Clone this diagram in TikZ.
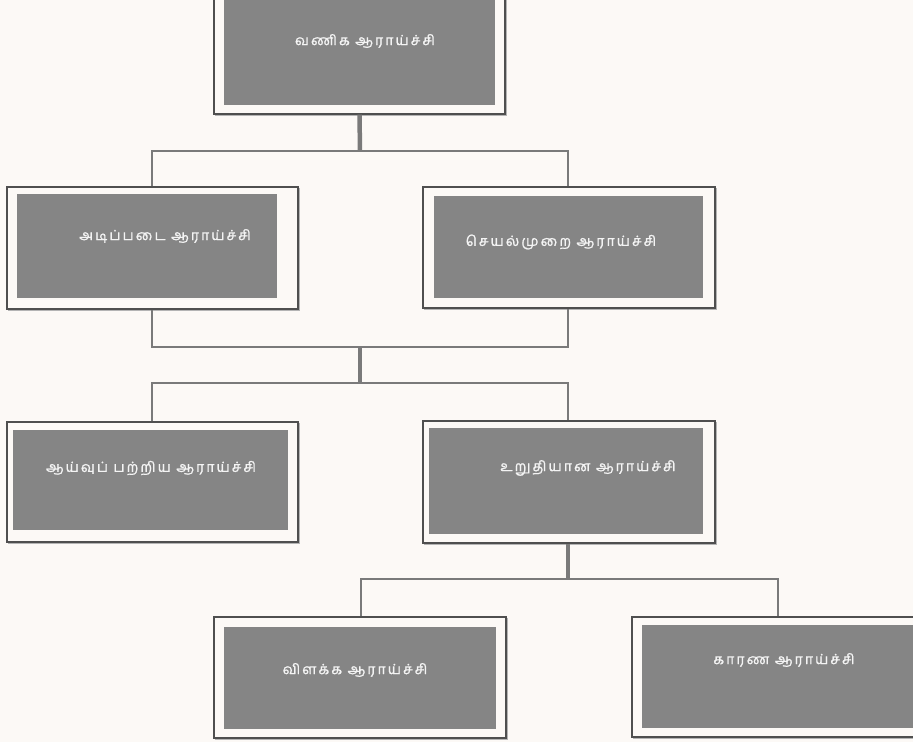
\documentclass[tikz,border=0pt]{standalone}
\usepackage{fontspec}
\newfontfamily\tamilfont[Script=Tamil,LetterSpace=15,FakeBold=1.2]{Hind Madurai}
\definecolor{paper}{HTML}{FCF9F6}
\definecolor{panel}{HTML}{858585}
\definecolor{framecol}{HTML}{4F4F4F}
\definecolor{shadecol}{HTML}{B4B4B4}
\definecolor{linkcol}{HTML}{7A7A7A}
\definecolor{labelcol}{HTML}{F4F4F4}
\tikzset{
  frame/.style={draw=framecol, line width=1.3pt, fill=paper, inner sep=0pt,
    minimum width=#1,
    preaction={draw=shadecol, line width=1.3pt, transform canvas={xshift=1.5pt, yshift=-1.5pt}}},
  panelbox/.style={fill=panel, inner sep=0pt},
  label/.style={text=labelcol, font=\tamilfont\fontsize{14}{16}\selectfont, inner sep=0pt},
  link/.style={draw=linkcol, line width=1.6pt},
  stem/.style={draw=linkcol, line width=4.5pt},
}
\begin{document}
\begin{tikzpicture}[x=1pt, y=-1pt]
\clip (0,0) rectangle (913,742);
\fill[paper] (0,0) rectangle (913,742);

% top level
\node[frame=291pt, minimum height=124pt] (top) at (359.5,52) {};
\node[panelbox, minimum width=271pt, minimum height=110pt] (topin) at (359.5,50) {};
\node[label] (toptx) at (365,41) {வணிக ஆராய்ச்சி};

% second level
\node[frame=291pt, minimum height=122pt] (basic) at (152.5,248) {};
\node[panelbox, minimum width=260pt, minimum height=104pt] (basicin) at (147,246) {};
\node[label] (basictx) at (165,236) {அடிப்படை ஆராய்ச்சி};

\node[frame=292pt, minimum height=121pt] (applied) at (569,247.5) {};
\node[panelbox, minimum width=269pt, minimum height=102pt] (appliedin) at (568.5,247) {};
\node[label] (appliedtx) at (561,242) {செயல்முறை ஆராய்ச்சி};

% third level
\node[frame=291pt, minimum height=120pt] (explor) at (152.5,482) {};
\node[panelbox, minimum width=275pt, minimum height=100pt] (explorin) at (150.5,480) {};
\node[label] (explortx) at (151,468) {ஆய்வுப் பற்றிய ஆராய்ச்சி};

\node[frame=292pt, minimum height=122pt] (concl) at (569,482) {};
\node[panelbox, minimum width=274pt, minimum height=106pt] (conclin) at (566,481) {};
\node[label] (concltx) at (588,468) {உறுதியான ஆராய்ச்சி};

% fourth level
\node[frame=292pt, minimum height=121pt] (descr) at (360,677.5) {};
\node[panelbox, minimum width=272pt, minimum height=102pt] (descrin) at (360,678) {};
\node[label] (descrtx) at (355,670) {விளக்க ஆராய்ச்சி};

\node[frame=293pt, minimum height=120pt] (causal) at (778.5,677) {};
\node[panelbox, minimum width=273pt, minimum height=103pt] (causalin) at (778.5,676.5) {};
\node[label] (causaltx) at (784,660) {காரண ஆராய்ச்சி};

% junction points of the tree
\coordinate (j1) at (360,151);
\coordinate (j2) at (360,347);
\coordinate (j3) at (360,383);
\coordinate (j4) at (568,579);

% connectors
\path[stem] (top.south) -- (j1);
\path[link] (basic.north -| 152,0) |- (j1) -| (applied.north -| 568,0);
\path[link] (basic.south -| 152,0) |- (j2) -| (applied.south -| 568,0);
\path[stem] (j2) -- (j3);
\path[link] (explor.north -| 152,0) |- (j3) -| (concl.north -| 568,0);
\path[stem] (concl.south -| 568,0) -- (j4);
\path[link] (descr.north -| 361,0) |- (j4) -| (causal.north -| 778,0);
\end{tikzpicture}
\end{document}
